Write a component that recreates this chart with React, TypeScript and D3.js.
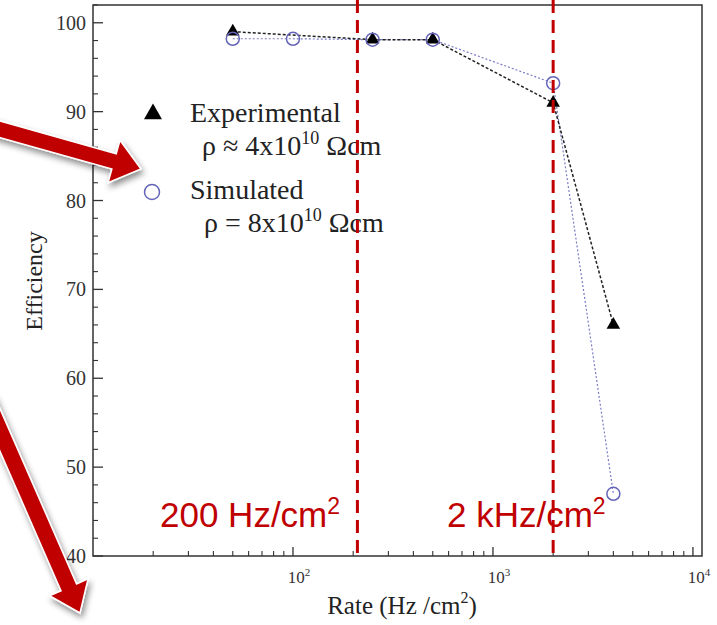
import * as d3 from "d3";

// values
const rateExp = [50, 250, 500, 2000, 4000];
const effExp = [99, 98.1, 98.1, 91, 66];
const rateSim = [50, 100, 250, 500, 2000, 4000];
const effSim = [98.2, 98.2, 98.1, 98.1, 93.2, 47];
const yTicks = [40, 50, 60, 70, 80, 90, 100];
const xDecades = [2, 3, 4];
const limitRates = [210, 2000];

const width = 717;
const height = 625;
const serif = "'Liberation Serif', 'Times New Roman', serif";
const sans = "'Liberation Sans', Arial, sans-serif";
const red = "#c00000";

const xScale = d3.scaleLog().domain([10, 11100]).range([93, 702]);
const yScale = d3.scaleLinear().domain([40, 102]).range([556, 5]);

// block arrow polygon from tail to tip
function arrowPath(tail: [number, number], tip: [number, number], shaft: number, headW: number, headL: number) {
  const dx = tip[0] - tail[0];
  const dy = tip[1] - tail[1];
  const len = Math.hypot(dx, dy);
  const ux = dx / len, uy = dy / len;
  const px = -uy, py = ux;
  const bx = tip[0] - ux * headL, by = tip[1] - uy * headL;
  const pts = [
    [tail[0] + px * shaft / 2, tail[1] + py * shaft / 2],
    [bx + px * shaft / 2, by + py * shaft / 2],
    [bx + px * headW / 2, by + py * headW / 2],
    tip,
    [bx - px * headW / 2, by - py * headW / 2],
    [bx - px * shaft / 2, by - py * shaft / 2],
    [tail[0] - px * shaft / 2, tail[1] - py * shaft / 2],
  ];
  return "M" + pts.map((p) => p.join(",")).join("L") + "Z";
}

const App = () => {
  const expPts = rateExp.map((r, i) => [xScale(r), yScale(effExp[i])] as [number, number]);
  const simPts = rateSim.map((r, i) => [xScale(r), yScale(effSim[i])] as [number, number]);
  const line = d3.line();
  const tri = d3.symbol(d3.symbolTriangle, 80)()!;
  const triBig = d3.symbol(d3.symbolTriangle, 140)()!;

  const minorY = d3.range(40, 103, 2).filter((v) => v % 10 !== 0);
  const minorX: number[] = [];
  [10, 100, 1000].forEach((d) => {
    for (let k = 2; k <= 9; k++) minorX.push(d * k);
  });
  const x0 = xScale.range()[0];
  const x1 = xScale.range()[1];
  const y0 = yScale.range()[0];
  const y1 = yScale.range()[1];

  return (
    <svg width={width} height={height} style={{ position: "absolute", left: 0, top: 0, background: "#fff" }}>
      <defs>
        <filter id="shadow" x="-30%" y="-30%" width="160%" height="160%">
          <feDropShadow dx="2" dy="4" stdDeviation="3" floodColor="#000" floodOpacity="0.45" />
        </filter>
      </defs>
      <rect width={width} height={height} fill="#fff" />

      {/* frame */}
      <rect x={x0} y={y1} width={x1 - x0} height={y0 - y1} fill="none" stroke="#333" strokeWidth={1.5} />

      {/* y ticks */}
      {yTicks.map((t) => (
        <g key={t}>
          <line x1={x0} x2={x0 + 10} y1={yScale(t)} y2={yScale(t)} stroke="#333" strokeWidth={1.3} />
          <text x={86} y={yScale(t)} dy="0.35em" textAnchor="end" fontFamily={serif} fontSize={20} fill="#333">
            {t}
          </text>
        </g>
      ))}
      {minorY.map((t) => (
        <line key={t} x1={x0} x2={x0 + 5} y1={yScale(t)} y2={yScale(t)} stroke="#333" strokeWidth={1.1} />
      ))}

      {/* x ticks */}
      {minorX.map((t) => (
        <line key={t} x1={xScale(t)} x2={xScale(t)} y1={y0} y2={y0 - 5} stroke="#333" strokeWidth={1.1} />
      ))}
      {xDecades.map((p) => (
        <g key={p}>
          <line x1={xScale(10 ** p)} x2={xScale(10 ** p)} y1={y0} y2={y0 - 9} stroke="#333" strokeWidth={1.3} />
          <text x={xScale(10 ** p) + 6} y={583} textAnchor="middle" fontFamily={serif} fontSize={17} fill="#333">
            10
            <tspan fontSize={11} dy={-7}>{p}</tspan>
          </text>
        </g>
      ))}

      {/* axis titles */}
      <text transform="translate(42,281) rotate(-90)" textAnchor="middle" fontFamily={serif} fontSize={24} fill="#222">
        Efficiency
      </text>
      <text x={402} y={614} textAnchor="middle" fontFamily={serif} fontSize={25} fill="#222">
        Rate (Hz /cm
        <tspan fontSize={16} dy={-11}>2</tspan>
        <tspan dy={11}>)</tspan>
      </text>

      {/* series lines */}
      <path d={line(simPts)!} fill="none" stroke="#7b7bc4" strokeWidth={1.2} strokeDasharray="2,2" />
      <path d={line(expPts)!} fill="none" stroke="#222" strokeWidth={1.5} strokeDasharray="3,2" />

      {/* markers */}
      {expPts.map((p, i) => (
        <path key={i} d={tri} transform={`translate(${p[0]},${p[1]})`} fill="#000" />
      ))}
      {simPts.map((p, i) => (
        <circle key={i} cx={p[0]} cy={p[1]} r={6.5} fill="none" stroke="#6464b8" strokeWidth={1.5} />
      ))}

      {/* legend */}
      <path d={triBig} transform="translate(153,114)" fill="#000" />
      <text x={190} y={122} fontFamily={serif} fontSize={28} fill="#222">Experimental</text>
      <text x={202} y={155} fontFamily={serif} fontSize={28} fill="#222">
        ρ ≈ 4x10
        <tspan fontSize={18} dy={-11}>10</tspan>
        <tspan dy={11}> Ωcm</tspan>
      </text>
      <circle cx={152} cy={192} r={7.5} fill="none" stroke="#6464b8" strokeWidth={1.5} />
      <text x={190} y={199} fontFamily={serif} fontSize={28} fill="#222">Simulated</text>
      <text x={204} y={232} fontFamily={serif} fontSize={28} fill="#222">
        ρ = 8x10
        <tspan fontSize={18} dy={-11}>10</tspan>
        <tspan dy={11}> Ωcm</tspan>
      </text>

      {/* rate limit markers */}
      {limitRates.map((r) => (
        <line key={r} x1={xScale(r)} x2={xScale(r)} y1={0} y2={y0} stroke={red} strokeWidth={3} strokeDasharray="13,7" />
      ))}
      <text x={160} y={527} fontFamily={sans} fontSize={35} fill={red}>
        200 Hz/cm
        <tspan fontSize={23} dy={-13}>2</tspan>
      </text>
      <text x={447} y={527} fontFamily={sans} fontSize={35} fill={red}>
        2 kHz/cm
        <tspan fontSize={23} dy={-13}>2</tspan>
      </text>

      {/* arrows */}
      <g filter="url(#shadow)">
        <path d={arrowPath([-12, 126], [141, 169], 16, 44, 28)} fill={red} stroke="#fff" strokeWidth={1.5} />
        <path d={arrowPath([-14, 398], [80, 613], 17, 42, 28)} fill={red} stroke="#fff" strokeWidth={1.5} />
      </g>
    </svg>
  );
};

export default App;
